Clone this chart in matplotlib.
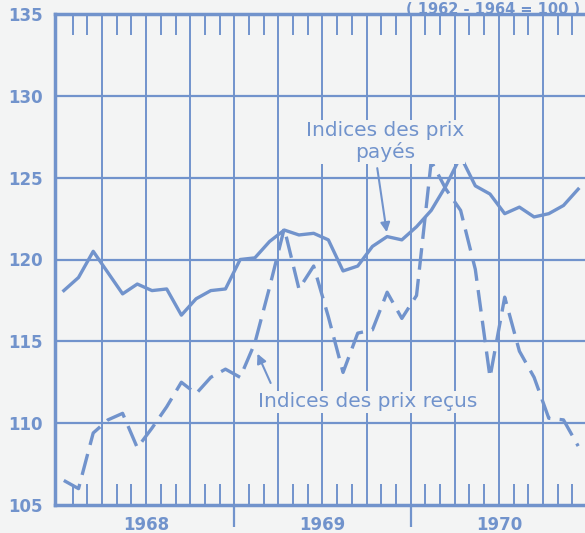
import matplotlib
matplotlib.use("Agg")
import matplotlib.pyplot as plt
import numpy as np

# monthly indices, Jan 1968 .. Dec 1970 (1962-1964 = 100)
month_idx = list(range(36))
years = ["1968", "1969", "1970"]

prix_payes = [118.1, 118.9, 120.5, 119.2, 117.9, 118.5, 118.1, 118.2, 116.6, 117.6,
              118.1, 118.2, 120.0, 120.1, 121.1, 121.8, 121.5, 121.6, 121.2, 119.3,
              119.6, 120.8, 121.4, 121.2, 122.0, 123.0, 124.5, 126.3, 124.5, 124.0,
              122.8, 123.2, 122.6, 122.8, 123.3, 124.3]

prix_recus = [106.5, 106.0, 109.4, 110.2, 110.6, 108.5, 109.7, 111.0, 112.5, 111.8,
              112.8, 113.3, 112.8, 114.9, 118.3, 121.9, 118.2, 119.6, 116.5, 113.1,
              115.5, 115.7, 118.0, 116.4, 117.8, 126.0, 124.3, 123.0, 119.4, 112.8,
              117.7, 114.4, 112.8, 110.3, 110.2, 108.6]

blue = "#7193cc"
bg = "#f3f4f4"

plt.rcParams['font.family'] = ['DejaVu Sans']

fig = plt.figure(figsize=(5.85, 5.33), dpi=100, facecolor=bg)
ax = fig.add_axes([55 / 585, 28 / 533, 532 / 585, 491 / 533], facecolor=bg)

x = np.array(month_idx) + 0.4
ax.plot(x, prix_payes, color=blue, lw=2.4, solid_joinstyle='round', zorder=3)
ax.plot(x, prix_recus, color=blue, lw=2.4, dashes=(6.5, 2.8), zorder=3)

ax.set_xlim(-0.2, 36)
ax.set_ylim(105, 135)

# grid: quarters vertically, every 5 points horizontally
for q in range(3, 36, 3):
    ax.axvline(q, color=blue, lw=1.4, zorder=1)
for v in range(110, 135, 5):
    ax.axhline(v, color=blue, lw=1.6, zorder=1)

# year boundaries extend below the axis
ax.vlines([12, 24], 103.65, 105, color=blue, lw=1.6, clip_on=False)

ax.set_yticks(range(105, 140, 5))
ax.set_yticklabels([str(v) for v in range(105, 140, 5)], fontweight='bold')
ax.tick_params(axis='y', length=0, pad=9, labelsize=12, labelcolor=blue)

ax.set_xticks([6, 18, 30])
ax.set_xticklabels(years, fontweight='bold')
ax.tick_params(axis='x', which='major', length=0, pad=8, labelsize=12, labelcolor=blue)
ax.set_xticks([m for m in range(1, 36) if m % 3 != 0], minor=True)
ax.tick_params(axis='x', which='minor', direction='in', length=15, width=1.4,
               color=blue, top=True, bottom=True)

for s in ['left', 'top', 'bottom']:
    ax.spines[s].set_color(blue)
    ax.spines[s].set_linewidth(2.5)
ax.spines['right'].set_visible(False)

box = dict(facecolor=bg, edgecolor='none', pad=1)
ax.text(22.25, 127.2, "Indices des prix\npayés", color=blue, fontsize=14.5,
        ha='center', va='center', linespacing=1.15, bbox=box, zorder=4)
ax.annotate("", xy=(22.4, 121.5), xytext=(21.7, 125.75),
            arrowprops=dict(arrowstyle='-|>', color=blue, lw=1.5, mutation_scale=14),
            zorder=4)

ax.text(21.1, 111.3, "Indices des prix reçus", color=blue, fontsize=14.5,
        ha='center', va='center', bbox=box, zorder=4)
ax.annotate("", xy=(13.5, 114.4), xytext=(14.55, 112.3),
            arrowprops=dict(arrowstyle='-|>', color=blue, lw=1.5, mutation_scale=14),
            zorder=4)

fig.text(580 / 585, 1 - 1.5 / 533, "( 1962 - 1964 = 100 )", color=blue, fontsize=10.5,
         fontweight='bold', ha='right', va='top', zorder=5)

fig.savefig("out.png", dpi=100, facecolor=bg)
